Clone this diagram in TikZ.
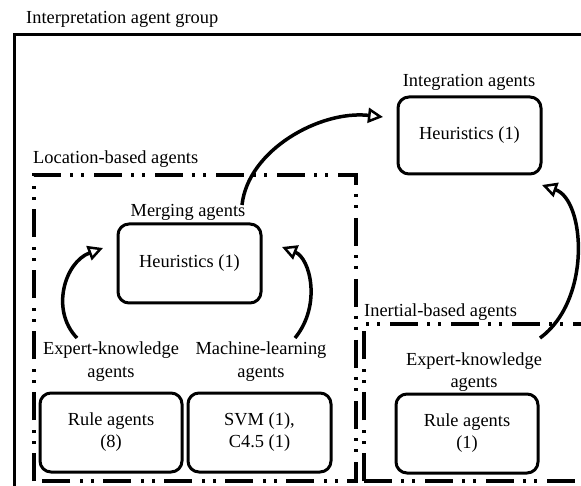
\documentclass[tikz,border=0pt]{standalone}
\usepackage{fontspec}
\setmainfont{Liberation Serif}
\usetikzlibrary{arrows.meta}
\begin{document}
\begin{tikzpicture}[x=1pt,y=-1pt,
  every node/.style={font=\fontsize{18.4}{22}\selectfont, inner sep=0pt},
  agentbox/.style={draw, line width=3pt, rounded corners=11pt, align=center},
  grouplabel/.style={anchor=base west},
  catlabel/.style={anchor=base, align=center},
  dashbox/.style={line width=4.5pt, dash pattern=on 28pt off 9pt on 3pt off 8pt on 3pt off 10pt},
  flow/.style={line width=3.5pt, -{Triangle[open, length=15pt, width=15pt, line width=2.5pt]}}
]
\useasboundingbox (0,0) rectangle (581,486);
\clip (0,0) rectangle (581,486);
\fill[white] (0,0) rectangle (581,486);

% outer group
\draw[line width=3pt] (14,700) -- (14,35) -- (700,35);
\node[grouplabel] (grp) at (26,24) {Interpretation agent group};

% location-based group
\draw[dashbox] (34,481) -- (34,175) -- (356,175) -- (356,481) -- cycle;
\node[grouplabel] (loclab) at (33,164) {Location-based agents};

% inertial-based group
\draw[dashbox] (364,481) -- (364,324) -- (700,324);
\draw[dashbox] (364,481) -- (700,481);
\node[grouplabel] (inelab) at (364,317) {Inertial-based agents};

% integration
\node[agentbox, minimum width=143pt, minimum height=77pt] (integ) at (469.5,135.5) {Heuristics (1)};
\node[catlabel] (integlab) at (469,87) {Integration agents};

% merging
\node[agentbox, minimum width=143pt, minimum height=79pt] (merge) at (189.5,263.5) {Heuristics (1)};
\node[catlabel] (mergelab) at (188,217) {Merging agents};

% bottom boxes
\node[agentbox, minimum width=142pt, minimum height=79pt] (rule8) at (111,432.5) {Rule agents\\(8)};
\node[agentbox, minimum width=143pt, minimum height=79pt] (svm) at (259.5,432.5) {SVM (1),\\C4.5 (1)};
\node[agentbox, minimum width=142pt, minimum height=79pt] (rule1) at (467,433.5) {Rule agents\\(1)};

\node[catlabel] (ek1) at (111,377) {Expert-knowledge\\agents};
\node[catlabel] (ml) at (261,377) {Machine-learning\\agents};
\node[catlabel] (ek2) at (474,387) {Expert-knowledge\\agents};

% connector end points
\coordinate (a1s) at (242,205);
\coordinate (a1e) at (383,117);
\coordinate (a2s) at (77,338);
\coordinate (a2e) at (103,248);
\coordinate (a3s) at (295,338);
\coordinate (a3e) at (282,247);
\coordinate (a4s) at (540,338);
\coordinate (a4e) at (542,185);

\draw[flow] (a1s) .. controls (248,150) and (320,110) .. (a1e);
\draw[flow] (a2s) .. controls (50,310) and (65,262) .. (a2e);
\draw[flow] (a3s) .. controls (322,305) and (310,258) .. (a3e);
\draw[flow] (a4s) .. controls (592,300) and (585,200) .. (a4e);
\end{tikzpicture}
\end{document}
